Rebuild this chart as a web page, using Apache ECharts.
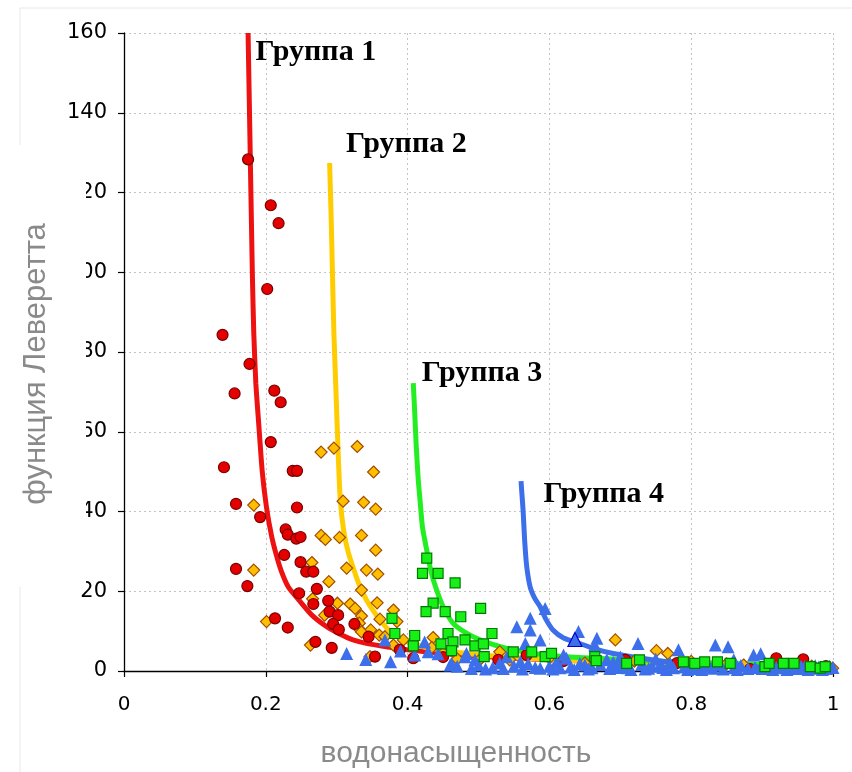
<!DOCTYPE html>
<html>
<head>
<meta charset="utf-8">
<script src="https://cdn.jsdelivr.net/npm/echarts@6/dist/echarts.min.js"></script>
<style>
  html, body { margin: 0; padding: 0; background: #ffffff; }
  #chart { width: 852px; height: 772px; }
</style>
</head>
<body>
<div id="chart"></div>
<script>
// Fitted Leverett-function curves, one per rock group: [water saturation, J]
const curveGroup1 = [[0.175,160],[0.178,130],[0.181,100],[0.183,85],[0.186,72],[0.19,62],[0.195,50],[0.201,41],[0.208,34],[0.215,29],[0.222,25],[0.232,21],[0.248,17.5],[0.265,14],[0.286,11.1],[0.305,9.2],[0.323,7.8],[0.345,6.8],[0.37,6.1],[0.4,5.3],[0.45,4.4],[0.5,3.7],[0.6,2.8],[0.7,2.2],[0.8,1.7],[0.9,1.3],[1.0,1.0]];
const curveGroup2 = [[0.29,127.4],[0.292,115],[0.294,100],[0.296,85],[0.299,70],[0.302,55],[0.305,43],[0.31,35],[0.316,30],[0.323,26],[0.332,21.5],[0.342,17.8],[0.352,15],[0.361,12.8],[0.375,10],[0.394,7.8],[0.42,6.2],[0.45,5.2],[0.5,4.1],[0.6,2.9],[0.7,2.2],[0.8,1.7],[0.9,1.3],[1.0,1.0]];
const curveGroup3 = [[0.408,72.2],[0.41,65],[0.412,57],[0.415,48],[0.4175,42.9],[0.421,36],[0.427,30.3],[0.433,25],[0.441,20.3],[0.451,15.8],[0.464,12],[0.48,9.8],[0.502,7.8],[0.525,6.4],[0.549,5.3],[0.6,3.9],[0.7,2.9],[0.8,2.2],[0.9,1.7],[1.0,1.3]];
const curveGroup4 = [[0.56,47.6],[0.561,45],[0.563,40],[0.565,33],[0.568,26.2],[0.573,21],[0.58,18],[0.587,16.1],[0.595,13],[0.605,10.3],[0.62,8.3],[0.643,6.9],[0.665,5.5],[0.69,4.4],[0.73,3.2],[0.784,1.9],[0.85,1.3],[0.92,0.9],[0.996,0.7]];

// Group names written beside each curve
const groupNames = ['Группа 1', 'Группа 2', 'Группа 3', 'Группа 4'];

// Measured core samples per group: [water saturation, J]
const pointsGroup1 = [[0.175,128.3],[0.207,116.8],[0.218,112.3],[0.202,95.8],[0.139,84.3],[0.177,77],[0.156,69.6],[0.212,70.3],[0.221,67.4],[0.207,57.4],[0.141,51.1],[0.238,50.2],[0.244,50.2],[0.158,41.9],[0.192,38.6],[0.244,41],[0.228,35.5],[0.231,34.2],[0.243,33.2],[0.249,33.6],[0.226,29.1],[0.249,27.3],[0.257,24.9],[0.267,24.9],[0.158,25.6],[0.174,21.3],[0.272,20.6],[0.247,19.5],[0.267,16.8],[0.288,17.6],[0.29,14.9],[0.302,14],[0.213,13.2],[0.231,10.9],[0.295,11.8],[0.303,10.4],[0.325,11.8],[0.27,7.3],[0.293,5.8],[0.345,8.6],[0.354,3.6],[0.389,5.3],[0.408,3.2],[0.45,3.5],[0.528,2.8],[0.568,4],[0.62,2.5],[0.707,2.8],[0.78,2],[0.883,0.5],[0.92,3.2],[0.958,2.9],[0.99,1.2]];
const pointsGroup2 = [[0.278,54.9],[0.296,55.9],[0.329,56.3],[0.352,49.9],[0.309,42.6],[0.338,42.3],[0.355,40.6],[0.183,41.6],[0.278,34],[0.284,33],[0.304,33.5],[0.335,34],[0.355,30.3],[0.265,27.2],[0.314,25.8],[0.342,25.3],[0.358,24.3],[0.183,25.3],[0.289,22.4],[0.266,18.1],[0.335,20.3],[0.301,17],[0.319,16.8],[0.357,17.1],[0.283,14],[0.326,15.7],[0.335,13.8],[0.38,15.3],[0.361,13],[0.385,12.4],[0.201,12.4],[0.332,12],[0.333,10.3],[0.348,10.3],[0.36,9],[0.335,9.8],[0.368,8.6],[0.394,7.8],[0.38,6.5],[0.263,6.5],[0.347,3.6],[0.436,8.4],[0.434,5.9],[0.45,4.5],[0.47,3],[0.5,2.5],[0.53,4.8],[0.544,2.8],[0.6,3.3],[0.619,2.8],[0.65,2],[0.693,7.8],[0.72,2.5],[0.751,5.1],[0.767,4.4],[0.8,2.4],[0.85,1.8],[0.874,1.5],[0.95,1.6],[0.97,1.2],[0.9995,0.7]];
const pointsGroup3 = [[0.427,28.3],[0.421,24.5],[0.443,24.5],[0.467,22.1],[0.436,17],[0.426,14.9],[0.453,14.9],[0.475,13.6],[0.503,15.7],[0.378,13.2],[0.382,9.4],[0.41,8.9],[0.408,6.3],[0.457,9.4],[0.464,7.3],[0.447,6.8],[0.462,5.1],[0.481,7.8],[0.519,9.4],[0.495,6.3],[0.507,6.8],[0.508,3.6],[0.549,4.8],[0.575,4.8],[0.594,3.6],[0.603,4.4],[0.664,3.6],[0.666,2.6],[0.709,1.9],[0.727,2.8],[0.789,2.3],[0.805,1.9],[0.819,2.3],[0.837,2.3],[0.855,1.9],[0.904,1.1],[0.91,1.9],[0.93,1.9],[0.945,1.9],[0.968,1.1],[0.982,0.7],[0.989,1.1]];
const pointsGroup4 = [[0.314,4.4],[0.341,2.9],[0.376,2.3],[0.368,7.8],[0.39,5],[0.41,4],[0.424,7.3],[0.429,4.8],[0.443,4.3],[0.46,1.5],[0.462,1.9],[0.481,3.6],[0.483,4.4],[0.495,2.8],[0.47,1.2],[0.49,0.6],[0.5,1.5],[0.51,0.5],[0.52,0.8],[0.53,2],[0.535,0.6],[0.54,3.6],[0.55,1.2],[0.554,11.1],[0.559,2.3],[0.562,0.5],[0.566,6.9],[0.57,1.8],[0.573,13.2],[0.573,10.3],[0.58,0.9],[0.587,7.8],[0.587,0.7],[0.594,15.7],[0.6,1.2],[0.605,0.5],[0.61,2.2],[0.615,0.8],[0.62,4],[0.624,3.2],[0.63,1],[0.635,0.4],[0.641,9.9],[0.643,1.9],[0.65,1.5],[0.655,0.5],[0.66,0.8],[0.664,6.5],[0.667,8.2],[0.672,1.6],[0.681,2.8],[0.685,0.6],[0.69,2.2],[0.695,0.9],[0.7,1.3],[0.7,3.5],[0.71,0.8],[0.715,0.4],[0.725,6.9],[0.73,1.6],[0.735,0.5],[0.74,0.7],[0.745,1.2],[0.75,3],[0.756,1.5],[0.76,0.9],[0.765,0.4],[0.77,2],[0.775,0.8],[0.782,5.3],[0.79,1],[0.795,0.4],[0.8,0.6],[0.81,1.1],[0.815,0.4],[0.82,1.2],[0.83,0.7],[0.834,6.5],[0.84,1.5],[0.845,0.5],[0.852,6.1],[0.86,0.8],[0.86,2.8],[0.865,0.4],[0.87,1.4],[0.88,0.6],[0.888,4],[0.89,0.9],[0.898,4.3],[0.9,0.6],[0.905,1.6],[0.91,1.2],[0.915,0.4],[0.92,0.9],[0.93,0.8],[0.935,0.4],[0.94,1.3],[0.945,0.7],[0.95,0.6],[0.955,1.2],[0.96,1.1],[0.965,0.4],[0.97,0.7],[0.975,1.3],[0.98,1],[0.985,0.4],[0.99,0.6],[0.995,1.2],[1.0,0.9]];
// Sample of group 4 plotted with an outlined marker
const pointsGroup4Outlined = [[0.636,7.9]];

// Axis tick settings
const xTickStep = 0.2;
const yTickStep = 20;
const yMax = 160;

const chart = echarts.init(document.getElementById('chart'), null, { renderer: 'canvas' });

const groupLabelStyle = {
  fontFamily: 'Liberation Serif',
  fontWeight: 'bold',
  fontSize: 30,
  color: '#000000'
};

function curveSeries(data, color, name, offset) {
  return {
    type: 'line',
    data: data,
    showSymbol: false,
    smooth: 0.2,
    lineStyle: { color: color, width: 5 },
    silent: true,
    z: 2,
    markPoint: {
      symbol: 'circle',
      symbolSize: 1,
      itemStyle: { color: 'rgba(0,0,0,0)' },
      silent: true,
      label: Object.assign({
        show: true,
        position: 'right',
        distance: 0,
        offset: offset,
        formatter: name
      }, groupLabelStyle),
      data: [{ coord: data[0] }]
    }
  };
}

function pointSeries(data, symbol, size, fill, border, z) {
  return {
    type: 'scatter',
    data: data,
    symbol: symbol,
    symbolSize: size,
    itemStyle: { color: fill, borderColor: border, borderWidth: border ? 1.2 : 0, opacity: 1 },
    silent: true,
    z: z
  };
}

const option = {
  animation: false,
  backgroundColor: '#ffffff',
  grid: { left: 124, right: 19, top: 33, bottom: 101 },
  xAxis: {
    type: 'value',
    min: 0,
    max: 1,
    interval: xTickStep,
    axisLine: { show: true, onZero: false, lineStyle: { color: '#000000', width: 1.3 } },
    axisTick: { show: true, length: 6, lineStyle: { color: '#000000', width: 1.2 } },
    axisLabel: { color: '#000000', fontFamily: 'DejaVu Sans', fontSize: 20, margin: 24 },
    splitLine: { show: true, lineStyle: { color: '#c4c4c4', type: [2, 3], width: 1 } }
  },
  yAxis: {
    type: 'value',
    min: 0,
    max: yMax,
    interval: yTickStep,
    axisLine: { show: true, onZero: false, lineStyle: { color: '#000000', width: 1.3 } },
    axisTick: { show: true, length: 6, lineStyle: { color: '#000000', width: 1.2 } },
    axisLabel: { color: '#000000', fontFamily: 'DejaVu Sans', fontSize: 21, margin: 17 },
    splitLine: { show: true, lineStyle: { color: '#c4c4c4', type: [2, 3], width: 1 } }
  },
  series: [
    curveSeries(curveGroup1, '#ee1111', groupNames[0], [7, 19]),
    curveSeries(curveGroup2, '#ffcc00', groupNames[1], [16, -19]),
    curveSeries(curveGroup3, '#22ee22', groupNames[2], [8, -10]),
    curveSeries(curveGroup4, '#3d6fea', groupNames[3], [22, 13]),
    pointSeries(pointsGroup2, 'diamond', 12, '#ffbf00', '#a04d00', 3),
    pointSeries(pointsGroup1, 'circle', 11, '#e50000', '#7a0000', 4),
    pointSeries(pointsGroup4, 'triangle', 13, '#3d6fea', null, 5),
    pointSeries(pointsGroup4Outlined, 'triangle', 14, '#3d6fea', '#0000cc', 6),
    pointSeries(pointsGroup3, 'rect', 10, '#16f016', '#007a00', 7)
  ],
  graphic: {
    elements: [
      // faint outer frame of the plot panel
      {
        type: 'polyline',
        z: 90,
        silent: true,
        shape: { points: [[20, 772], [20, 8], [852, 8]] },
        style: { stroke: '#e8e8e8', lineWidth: 1, fill: null }
      },
      // white panel behind the vertical axis title
      {
        type: 'rect',
        z: 95,
        silent: true,
        shape: { x: 10, y: 145, width: 76, height: 442 },
        style: { fill: '#ffffff' }
      },
      {
        type: 'text',
        z: 100,
        silent: true,
        x: 36,
        y: 364,
        rotation: Math.PI / 2,
        style: {
          text: 'функция Леверетта',
          fontFamily: 'Liberation Sans',
          fontSize: 31,
          fill: '#8a8a8a',
          align: 'center',
          verticalAlign: 'middle'
        }
      },
      {
        type: 'text',
        z: 100,
        silent: true,
        x: 456,
        y: 754,
        style: {
          text: 'водонасыщенность',
          fontFamily: 'Liberation Sans',
          fontSize: 30,
          fill: '#8a8a8a',
          align: 'center',
          verticalAlign: 'middle'
        }
      }
    ]
  }
};

chart.setOption(option);
</script>
</body>
</html>
